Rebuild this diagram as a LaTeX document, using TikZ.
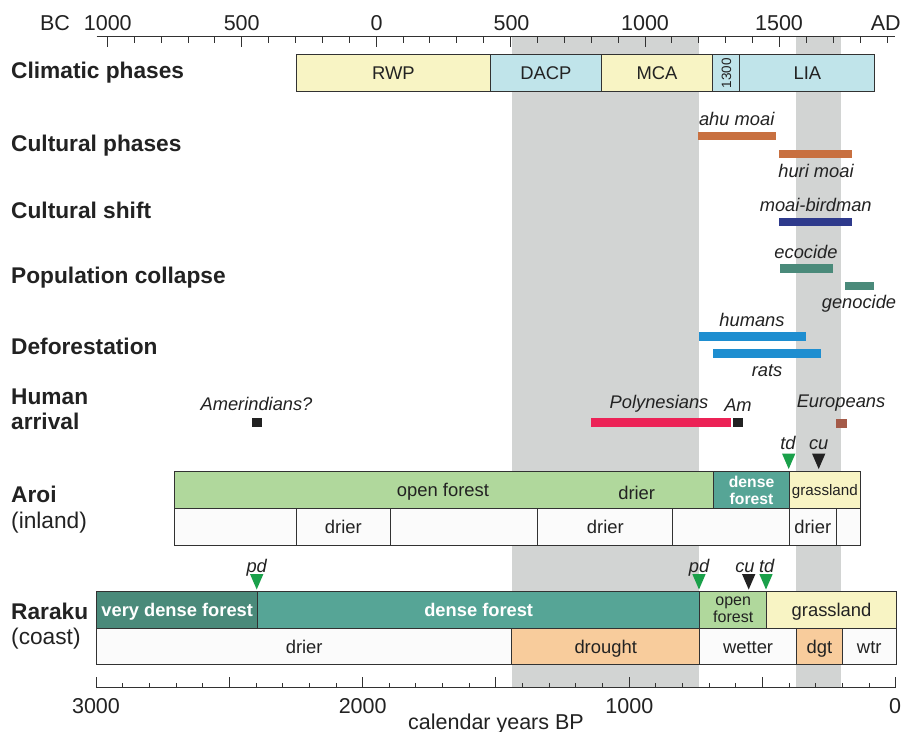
\documentclass[tikz,border=0pt]{standalone}
\usepackage{fontspec}
\setmainfont{Liberation Sans}
\definecolor{cyel}{RGB}{248,244,196}
\definecolor{cblu}{RGB}{192,228,234}
\definecolor{copen}{RGB}{176,216,156}
\definecolor{cdense}{RGB}{86,165,150}
\definecolor{cvdense}{RGB}{74,138,122}
\definecolor{cdrought}{RGB}{248,204,156}
\definecolor{cwhite}{RGB}{251,251,251}
\definecolor{cband}{RGB}{210,212,211}
\definecolor{corange}{RGB}{200,112,64}
\definecolor{cnavy}{RGB}{46,58,140}
\definecolor{cteal}{RGB}{74,138,122}
\definecolor{cbluebar}{RGB}{30,142,208}
\definecolor{cpink}{RGB}{236,34,86}
\definecolor{ceuro}{RGB}{164,90,72}
\definecolor{cgreen}{RGB}{26,160,74}
\definecolor{ctext}{RGB}{34,34,34}
\definecolor{cborder}{RGB}{50,50,50}
\newcommand{\mytri}[3]{\fill[#1] ({#2-6.7},#3) -- ({#2+6.7},#3) -- (#2,{#3+15.5}) -- cycle;}
\begin{document}
\begin{tikzpicture}[x=1pt,y=-1pt,
  txt/.style={inner sep=0pt,text=ctext,text depth=0pt},
  biglab/.style={txt,anchor=west,text height=16.3pt,font=\fontsize{22.7}{26}\selectfont\bfseries},
  bigreg/.style={txt,anchor=west,text height=16.3pt,font=\fontsize{22.7}{26}\selectfont},
  axlab/.style={txt,text height=15.4pt,font=\fontsize{21.5}{25}\selectfont},
  itlab/.style={txt,text height=13.2pt,font=\fontsize{18.3}{22}\selectfont\itshape},
  cell/.style={draw=cborder,line width=1.1pt,inner sep=0pt,anchor=north west,
    text=ctext,font=\fontsize{18.4}{22}\selectfont,text height=13.2pt,text depth=0pt},
  axisline/.style={draw=cborder,line width=1pt},
  band/.style={fill=cband}
]
\useasboundingbox (0,0) rectangle (905,731);
\fill[white] (0,0) rectangle (905,731);
% grey bands
\fill[band] (511.7,36) rectangle (698.8,688);
\fill[band] (796,36) rectangle (841,688);
% top axis
\coordinate (ta1) at (96.7,36);
\coordinate (ta2) at (895,36);
\draw[axisline] (ta1) -- (ta2);
\foreach \a in {-1000,-900,...,1900}{
  \pgfmathsetmacro{\xx}{376.2+0.26886*\a}
  \pgfmathsetmacro{\tl}{ifthenelse(mod(\a,500)==0,46.7,42.7)}
  \draw[axisline] (\xx,36) -- (\xx,\tl);
}
\node[axlab] (tbc) at (55,22.7) {BC};
\node[axlab] (t1000bc) at (107.8,22.7) {1000};
\node[axlab] (t500bc) at (241.7,22.7) {500};
\node[axlab] (t0) at (376.7,22.7) {0};
\node[axlab] (t500) at (511.5,22.7) {500};
\node[axlab] (t1000) at (645,22.7) {1000};
\node[axlab] (t1500) at (779,22.7) {1500};
\node[axlab] (tad) at (885.7,22.7) {AD};
% bottom axis
\coordinate (ba1) at (96,687.7);
\coordinate (ba2) at (895.7,687.7);
\draw[axisline] (ba1) -- (ba2);
\foreach \b in {0,100,...,3000}{
  \pgfmathsetmacro{\xx}{96+(3000-\b)*0.266667}
  \pgfmathsetmacro{\tl}{ifthenelse(mod(\b,500)==0,677,682.7)}
  \draw[axisline] (\xx,687.7) -- (\xx,\tl);
}
\node[axlab] (b3000) at (96,705.7) {3000};
\node[axlab] (b2000) at (362.7,705.7) {2000};
\node[axlab] (b1000) at (629.3,705.7) {1000};
\node[axlab] (b0) at (895,705.7) {0};
\node[axlab,anchor=base,text height=,text depth=] (bcal) at (496,729.5) {calendar years BP};
% left labels
\node[biglab] (lclim) at (11,70) {Climatic phases};
\node[biglab] (lcult) at (11,143.3) {Cultural phases};
\node[biglab] (lshift) at (11,210) {Cultural shift};
\node[biglab] (lpop) at (11,275.7) {Population collapse};
\node[biglab] (ldef) at (11,346.7) {Deforestation};
\node[biglab] (lhum) at (11,396.7) {Human};
\node[biglab] (larr) at (11,421) {arrival};
\node[biglab] (laroi) at (11,494) {Aroi};
\node[bigreg] (lin) at (11,520) {(inland)};
\node[biglab] (lrar) at (11,611.5) {Raraku};
\node[bigreg] (lcoast) at (11,636.5) {(coast)};
% climatic phases
\node[cell,fill=cyel,minimum width=194.3pt,minimum height=36.4pt] (rwp) at (295.7,54.3) {RWP};
\node[cell,fill=cblu,minimum width=110.7pt,minimum height=36.4pt] (dacp) at (490,54.3) {DACP};
\node[cell,fill=cyel,minimum width=111.6pt,minimum height=36.4pt] (mca) at (600.7,54.3) {MCA};
\node[cell,fill=cblu,minimum width=27pt,minimum height=36.4pt] (c1300) at (712.3,54.3) {};
\node[txt,rotate=90,text height=9.7pt,font=\fontsize{13.5}{16}\selectfont] (t1300) at (c1300.center) {1300};
\node[cell,fill=cblu,minimum width=135pt,minimum height=36.4pt] (lia) at (739.3,54.3) {LIA};
% bars
\fill[corange] (698.3,132.3) rectangle (775.7,140.3);
\node[itlab] (nahu) at (736.7,119) {ahu moai};
\fill[corange] (779.3,150) rectangle (852,158);
\node[itlab] (nhuri) at (816,170.7) {huri moai};
\fill[cnavy] (779.3,217.7) rectangle (852,226);
\node[itlab] (nbird) at (815.7,205) {moai-birdman};
\fill[cteal] (779.7,264.3) rectangle (832.7,273);
\node[itlab] (neco) at (806,251.7) {ecocide};
\fill[cteal] (844.7,282) rectangle (874.3,290.3);
\node[itlab] (ngeno) at (859,302) {genocide};
\fill[cbluebar] (699.3,332) rectangle (805.7,340.7);
\node[itlab] (nhumans) at (752,320) {humans};
\fill[cbluebar] (713.3,349.3) rectangle (821.3,358.3);
\node[itlab] (nrats) at (767,370) {rats};
\fill[cpink] (591,417.7) rectangle (730.7,426.7);
\node[itlab] (npoly) at (659,402) {Polynesians};
\fill[ctext] (732.7,417.7) rectangle (743,426.7);
\node[itlab] (nam) at (738,405) {Am};
\fill[ctext] (251.7,418.3) rectangle (261.7,426.5);
\node[itlab] (namer) at (256.5,404) {Amerindians?};
\fill[ceuro] (836,419.3) rectangle (846.7,427.7);
\node[itlab] (neuro) at (841,400.7) {Europeans};
% Aroi
\node[itlab] (atd) at (788,443) {td};
\node[itlab] (acu) at (818.7,443) {cu};
\mytri{cgreen}{788.7}{453.5}
\mytri{ctext}{818.7}{453.5}
\node[cell,fill=copen,minimum width=539.3pt,minimum height=37.6pt] (aopen) at (174,470.7) {};
\node[txt,text height=13.2pt,font=\fontsize{18.4}{22}\selectfont] (aopent) at (443,489.5) {open forest};
\node[txt,text height=13.2pt,font=\fontsize{18.4}{22}\selectfont] (adriert) at (636.7,493) {drier};
\node[cell,fill=cdense,minimum width=75.4pt,minimum height=37.6pt,text=white,
  font=\fontsize{15.7}{17.3}\selectfont\bfseries,align=center,text height=,text depth=] (adense) at (713.3,470.7) {dense\\forest};
\node[cell,fill=cyel,minimum width=71.3pt,minimum height=37.6pt,text height=10.9pt,font=\fontsize{15.2}{18}\selectfont] (agrass) at (788.7,470.7) {grassland};
\node[cell,fill=cwhite,minimum width=121.7pt,minimum height=36.7pt] (ab1) at (174,508.3) {};
\node[cell,fill=cwhite,minimum width=94.3pt,minimum height=36.7pt] (ab2) at (295.7,508.3) {drier};
\node[cell,fill=cwhite,minimum width=147.3pt,minimum height=36.7pt] (ab3) at (390,508.3) {};
\node[cell,fill=cwhite,minimum width=135pt,minimum height=36.7pt] (ab4) at (537.3,508.3) {drier};
\node[cell,fill=cwhite,minimum width=116.4pt,minimum height=36.7pt] (ab5) at (672.3,508.3) {};
\node[cell,fill=cwhite,minimum width=47pt,minimum height=36.7pt] (ab6) at (788.7,508.3) {drier};
\node[cell,fill=cwhite,minimum width=24.3pt,minimum height=36.7pt] (ab7) at (835.7,508.3) {};
% Raraku
\node[itlab] (rpd1) at (256.7,565.7) {pd};
\node[itlab] (rpd2) at (699,565.7) {pd};
\node[itlab] (rcu) at (745,565.7) {cu};
\node[itlab] (rtd) at (766.7,565.7) {td};
\mytri{cgreen}{256.7}{574}
\mytri{cgreen}{699}{574}
\mytri{ctext}{748.7}{574}
\mytri{cgreen}{766}{574}
\node[cell,fill=cvdense,minimum width=161.3pt,minimum height=37pt,text=white,font=\fontsize{18.3}{22}\selectfont\bfseries] (rvd) at (96,590.7) {very dense forest};
\node[cell,fill=cdense,minimum width=441.7pt,minimum height=37pt,text=white,font=\fontsize{18.3}{22}\selectfont\bfseries] (rd) at (257.3,590.7) {dense forest};
\node[cell,fill=copen,minimum width=67.3pt,minimum height=37pt,
  font=\fontsize{16}{17}\selectfont,align=center,text height=,text depth=] (ro) at (699,590.7) {open\\forest};
\node[cell,fill=cyel,minimum width=129.4pt,minimum height=37pt] (rg) at (766.3,590.7) {grassland};
\node[cell,fill=cwhite,minimum width=415.3pt,minimum height=36.6pt] (rb1) at (96,627.7) {drier};
\node[cell,fill=cdrought,minimum width=187.7pt,minimum height=36.6pt] (rb2) at (511.3,627.7) {drought};
\node[cell,fill=cwhite,minimum width=97pt,minimum height=36.6pt] (rb3) at (699,627.7) {wetter};
\node[cell,fill=cdrought,minimum width=45.7pt,minimum height=36.6pt] (rb4) at (796,627.7) {dgt};
\node[cell,fill=cwhite,minimum width=54pt,minimum height=36.6pt] (rb5) at (841.7,627.7) {wtr};
\end{tikzpicture}
\end{document}
